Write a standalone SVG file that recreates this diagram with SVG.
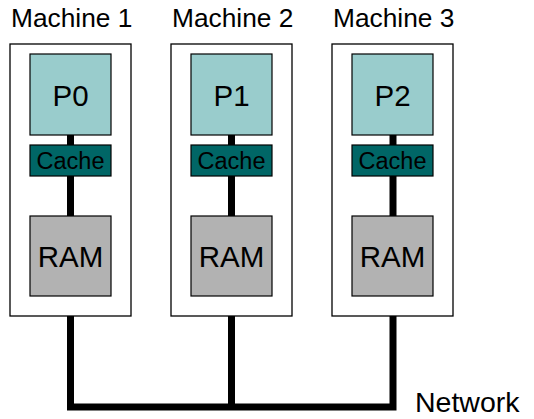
<svg xmlns="http://www.w3.org/2000/svg" width="534" height="419" viewBox="0 0 534 419">
<style>
text{font-family:"Liberation Sans",Arial,sans-serif;fill:#000}
.mach{fill:#fff;stroke:#000;stroke-width:1.3}
.cpu{fill:#99CCCC;stroke:#000;stroke-width:1.2}
.cache{fill:#006666;stroke:#000;stroke-width:1.2}
.ram{fill:#B2B2B2;stroke:#000;stroke-width:1.2}
.lbl{font-size:26.3px}
.net{font-size:28.5px}
.big{font-size:29.5px;text-anchor:middle}
.sm{font-size:23.5px;text-anchor:middle}
.bus{fill:none;stroke:#000;stroke-width:7;stroke-linejoin:miter;stroke-linecap:butt}
</style>
<g id="connectors">
<path class="bus" d="M70.5,316 V407 H393 V316"/>
<path class="bus" d="M231.5,316 V407"/>
</g>
<g id="machine1">
<text class="lbl" x="11" y="27">Machine 1</text>
<rect class="mach" x="10" y="44" width="121" height="272"/>
<line class="bus" x1="70.5" y1="135" x2="70.5" y2="216"/>
<g id="p0"><rect class="cpu" x="30" y="54" width="81" height="81"/><text class="big" x="70.5" y="106">P0</text></g>
<g id="cache1"><rect class="cache" x="30" y="145" width="81" height="31"/><text class="sm" x="70.5" y="169">Cache</text></g>
<g id="ram1"><rect class="ram" x="30" y="216" width="81" height="80"/><text class="big" x="70.5" y="267">RAM</text></g>
</g>
<g id="machine2">
<text class="lbl" x="172" y="27">Machine 2</text>
<rect class="mach" x="171" y="44" width="121" height="272"/>
<line class="bus" x1="231.5" y1="135" x2="231.5" y2="216"/>
<g id="p1"><rect class="cpu" x="191" y="54" width="81" height="81"/><text class="big" x="231.5" y="106">P1</text></g>
<g id="cache2"><rect class="cache" x="191" y="145" width="81" height="31"/><text class="sm" x="231.5" y="169">Cache</text></g>
<g id="ram2"><rect class="ram" x="191" y="216" width="81" height="80"/><text class="big" x="231.5" y="267">RAM</text></g>
</g>
<g id="machine3">
<text class="lbl" x="333" y="27">Machine 3</text>
<rect class="mach" x="332" y="44" width="121" height="272"/>
<line class="bus" x1="393" y1="135" x2="393" y2="216"/>
<g id="p2"><rect class="cpu" x="352" y="54" width="81" height="81"/><text class="big" x="392.5" y="106">P2</text></g>
<g id="cache3"><rect class="cache" x="352" y="145" width="81" height="31"/><text class="sm" x="392.5" y="169">Cache</text></g>
<g id="ram3"><rect class="ram" x="352" y="216" width="81" height="80"/><text class="big" x="392.5" y="267">RAM</text></g>
</g>
<g id="network">
<text class="net" x="415" y="412">Network</text>
</g>
</svg>
